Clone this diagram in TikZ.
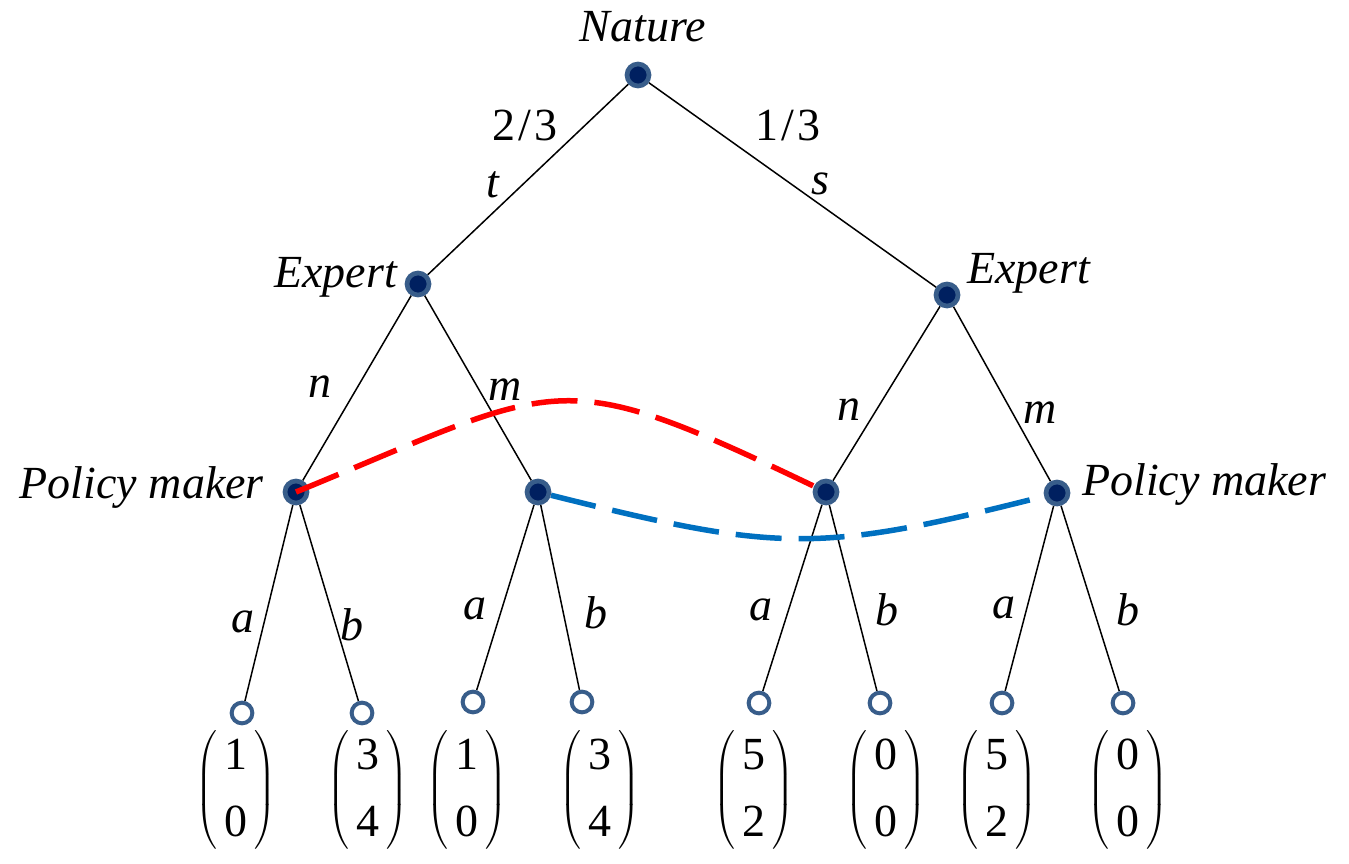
\RequirePackage{fix-cm}
\documentclass[tikz,border=0pt]{standalone}
\usepackage{exscale}
\usepackage{fontspec}
\setmainfont{Liberation Serif}
\renewcommand{\arraystretch}{1.218}
\delimiterfactor=800
\delimitershortfall=20pt
\definecolor{navy}{RGB}{0,32,96}
\definecolor{ring}{RGB}{56,93,138}
\definecolor{pred}{RGB}{255,0,0}
\definecolor{pblue}{RGB}{0,112,192}
\newcommand{\pay}[2]{{\fontsize{33}{40}\selectfont$\left(\vcenter{\hbox{\fontsize{46}{55}\selectfont\begin{tabular}{@{\hspace{7pt}}c@{\hspace{7pt}}}#1\\#2\end{tabular}}}\right)$}}
\pgfdeclarelayer{background}
\pgfsetlayers{background,main}
\begin{document}
\begin{tikzpicture}[x=1pt,y=-1pt,
  dec/.style={circle,fill=navy,draw=ring,line width=4.7pt,minimum size=22pt,inner sep=0pt},
  leaf/.style={circle,fill=white,draw=ring,line width=4pt,minimum size=20.7pt,inner sep=0pt},
  lbl/.style={font=\fontsize{46}{55}\selectfont\itshape,inner sep=0pt,anchor=base},
  num/.style={font=\fontsize{46}{55}\selectfont,inner sep=0pt,anchor=base},
  payoff/.style={inner sep=0pt},
  edge/.style={draw=black,line width=1.5pt},
  infoR/.style={draw=pred,line width=5.5pt,dash pattern=on 46pt off 17pt},
  infoB/.style={draw=pblue,line width=5.5pt,dash pattern=on 46pt off 17pt}]
\useasboundingbox (0,0) rectangle (1349,864);
% decision nodes
\node[dec] (nat) at (638,75) {};
\node[dec] (e1) at (418,284) {};
\node[dec] (e2) at (947,295) {};
\node[dec] (p1) at (296,492) {};
\node[dec] (p2) at (538,492) {};
\node[dec] (p3) at (826,492) {};
\node[dec] (p4) at (1057,493) {};
% leaves
\node[leaf] (l1) at (242,713) {};
\node[leaf] (l2) at (362,713) {};
\node[leaf] (l3) at (473,702) {};
\node[leaf] (l4) at (582,702) {};
\node[leaf] (l5) at (759,703) {};
\node[leaf] (l6) at (880,703) {};
\node[leaf] (l7) at (1002,703) {};
\node[leaf] (l8) at (1123,703) {};
% edges
\begin{pgfonlayer}{background}
\draw[edge] (nat) -- (e1);
\draw[edge] (nat) -- (e2);
\draw[edge] (e1) -- (p1);
\draw[edge] (e1) -- (p2);
\draw[edge] (e2) -- (p3);
\draw[edge] (e2) -- (p4);
\draw[edge] (p1) -- (l1);
\draw[edge] (p1) -- (l2);
\draw[edge] (p2) -- (l3);
\draw[edge] (p2) -- (l4);
\draw[edge] (p3) -- (l5);
\draw[edge] (p3) -- (l6);
\draw[edge] (p4) -- (l7);
\draw[edge] (p4) -- (l8);
\draw[infoB] (p2) .. controls (778,552) and (817,554) .. (p4);
\end{pgfonlayer}
\draw[infoR] (p1.center) .. controls (569,380) and (553,361) .. (p3.center);
% player labels
\node[lbl] (tnat) at (643,42) {Nature};
\node[lbl,anchor=base east] (te1) at (397,287) {Expert};
\node[lbl,anchor=base west] (te2) at (967,283) {Expert};
\node[lbl,anchor=base east] (tp1) at (264,498) {Policy maker};
\node[lbl,anchor=base west] (tp2) at (1082,495) {Policy maker};
% probabilities and actions
\node[num] (pr1) at (525,140) {2\kern3pt/\kern3pt3};
\node[num] (pr2) at (788,140) {1\kern3pt/\kern3pt3};
\node[lbl] (at) at (493,197) {t};
\node[lbl] (as) at (820,194) {s};
\node[lbl] (an1) at (320,397) {n};
\node[lbl] (am1) at (505,400) {m};
\node[lbl] (an2) at (849,420) {n};
\node[lbl] (am2) at (1040,423) {m};
\node[lbl] (aa1) at (243,632) {a};
\node[lbl] (ab1) at (352,640) {b};
\node[lbl] (aa2) at (475,619) {a};
\node[lbl] (ab2) at (596,628) {b};
\node[lbl] (aa3) at (761,620) {a};
\node[lbl] (ab3) at (887,625) {b};
\node[lbl] (aa4) at (1004,618) {a};
\node[lbl] (ab4) at (1128,625) {b};
% payoffs
\node[payoff] (v1) at (236,790) {\pay{1}{0}};
\node[payoff] (v2) at (368,790) {\pay{3}{4}};
\node[payoff] (v3) at (467,790) {\pay{1}{0}};
\node[payoff] (v4) at (600,790) {\pay{3}{4}};
\node[payoff] (v5) at (754,790) {\pay{5}{2}};
\node[payoff] (v6) at (886,790) {\pay{0}{0}};
\node[payoff] (v7) at (997,790) {\pay{5}{2}};
\node[payoff] (v8) at (1128,790) {\pay{0}{0}};
\end{tikzpicture}
\end{document}
